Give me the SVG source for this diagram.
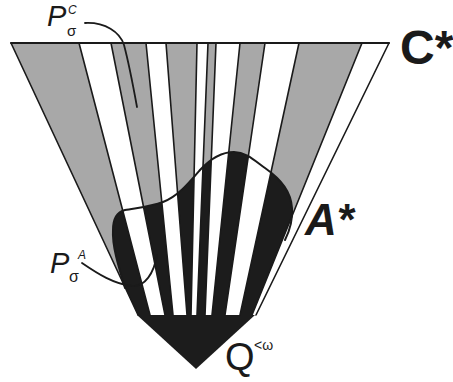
<svg xmlns="http://www.w3.org/2000/svg" xmlns:xlink="http://www.w3.org/1999/xlink" width="453" height="382" viewBox="0 0 453 382">
<style>
.ln{stroke:#1a1a1a;stroke-width:1.6;fill:none;stroke-linecap:round}
.lead{stroke:#1a1a1a;stroke-width:1.8;fill:none;stroke-linecap:round}
.t{fill:#1a1a1a;font-family:"Liberation Sans",Arial,sans-serif}
</style>
<defs>
<g id="grays">
<polygon points="11,43 79,43 150,315 138,315"/>
<polygon points="111,43 146,43 173,315 165,315"/>
<polygon points="166,43 197,43 191,315 187,315"/>
<polygon points="208,43 216,43 205,315 197,315"/>
<polygon points="240,43 265,43 225,315 212,315"/>
<polygon points="299,43 362,43 252,315 240,315"/>
</g>
<clipPath id="blobclip">
<path d="M125,288 C118,265 112,245 113,230 C113,218 117,212 125,210 C135,208 150,207 163,202 C178,196 188,184 200,170 C212,157 222,152 234,152 C246,152 254,160 265,168 C282,180 291,192 292,208 C293,222 289,232 285,240 L260,320 L130,320 L118,292 Z"/>
</clipPath>
</defs>
<rect width="453" height="382" fill="#ffffff"/>
<g id="fan-C">
<polygon points="11,43 389,43 256,315 138,315" fill="#ffffff"/>
<use xlink:href="#grays" fill="#a8a8a8"/>
</g>
<g id="region-A">
<use xlink:href="#grays" fill="#1c1c1c" clip-path="url(#blobclip)"/>
</g>
<g id="cone-Q">
<polygon points="137,315 255,315 196,369" fill="#1c1c1c"/>
</g>
<g id="stripe-lines">
<line class="ln" x1="11" y1="43" x2="389" y2="43" style="stroke-width:2"/>
<line class="ln" x1="11" y1="43" x2="138" y2="315"/>
<line class="ln" x1="79" y1="43" x2="150" y2="315"/>
<line class="ln" x1="111" y1="43" x2="165" y2="315"/>
<line class="ln" x1="146" y1="43" x2="173" y2="315"/>
<line class="ln" x1="166" y1="43" x2="187" y2="315"/>
<line class="ln" x1="197" y1="43" x2="191" y2="315"/>
<line class="ln" x1="208" y1="43" x2="197" y2="315"/>
<line class="ln" x1="216" y1="43" x2="205" y2="315"/>
<line class="ln" x1="240" y1="43" x2="212" y2="315"/>
<line class="ln" x1="265" y1="43" x2="225" y2="315"/>
<line class="ln" x1="299" y1="43" x2="240" y2="315"/>
<line class="ln" x1="362" y1="43" x2="252" y2="315"/>
<line class="ln" x1="389" y1="43" x2="256" y2="315"/>
</g>
<g id="outline-A">
<path class="ln" style="stroke-width:2" d="M125,288 C118,265 112,245 113,230 C113,218 117,212 125,210 C135,208 150,207 163,202 C178,196 188,184 200,170 C212,157 222,152 234,152 C246,152 254,160 265,168 C282,180 291,192 292,208 C293,222 289,232 285,240"/>
</g>
<g id="connectors">
<path class="lead" d="M85,23 C105,22 120,32 124,45 C128,60 133,85 137,107"/>
<path class="lead" d="M82,263 C98,274 114,284 132,286 C145,287 154,273 157,255"/>
</g>
<g id="label-PC">
<text class="t" x="47" y="26" font-size="29" font-style="italic">P</text>
<text class="t" x="68" y="14" font-size="12" font-style="italic">C</text>
<text class="t" x="67" y="36" font-size="15">σ</text>
</g>
<g id="label-PA">
<text class="t" x="50" y="273" font-size="29" font-style="italic">P</text>
<text class="t" x="78" y="259" font-size="12" font-style="italic">A</text>
<text class="t" x="69" y="282" font-size="16">σ</text>
</g>
<g id="label-C">
<text class="t" x="400" y="64" font-size="48" font-weight="bold">C*</text>
</g>
<g id="label-A">
<text class="t" x="305" y="235" font-size="44" font-weight="bold" font-style="italic">A*</text>
</g>
<g id="label-Q">
<text class="t" x="225" y="370" font-size="38">Q</text>
<text class="t" x="254" y="350" font-size="14">&lt;ω</text>
</g>
</svg>
